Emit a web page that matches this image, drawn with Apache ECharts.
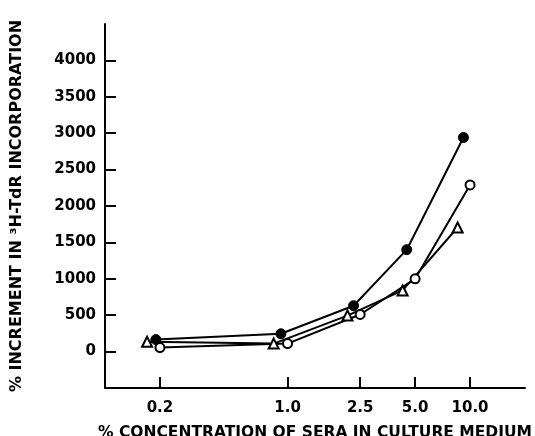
<!DOCTYPE html>
<html>
<head>
<meta charset="utf-8">
<script src="https://cdn.jsdelivr.net/npm/echarts@6/dist/echarts.min.js"></script>
<style>
html,body{margin:0;padding:0;background:#fff;}
#chart{width:535px;height:436px;}
</style>
</head>
<body>
<div id="chart"></div>
<script>
// Data
const xTickValues = [0.2, 1.0, 2.5, 5.0, 10.0];
const yTickValues = [0, 500, 1000, 1500, 2000, 2500, 3000, 3500, 4000];

const xFilled = [0.19, 0.92, 2.3, 4.5, 9.2];
const yFilled = [165, 245, 630, 1400, 2940];

const xOpen = [0.2, 1.0, 2.5, 5.0, 10.0];
const yOpen = [55, 110, 510, 1000, 2290];

const xTri = [0.17, 0.84, 2.13, 4.27, 8.55];
const yTri = [135, 110, 495, 840, 1705];

const xTitle = '% CONCENTRATION OF SERA IN CULTURE MEDIUM';
const yTitle = '% INCREMENT IN ³H-TdR INCORPORATION';

function pairs(xs, ys) { return xs.map((x, i) => [x, ys[i]]); }

const FONT = '"DejaVu Sans", "Liberation Sans", Arial, sans-serif';
const chart = echarts.init(document.getElementById('chart'), null, {renderer: 'canvas'});

chart.setOption({
  animation: false,
  backgroundColor: '#fff',
  grid: {left: 105, top: 24, width: 420, height: 364, containLabel: false, outerBoundsMode: 'none'},
  xAxis: {
    type: 'log', logBase: 10, min: 0.1, max: 20,
    name: xTitle, nameLocation: 'middle', nameGap: 37,
    nameTextStyle: {color: '#000', fontFamily: FONT, fontWeight: 'bold', fontSize: 15.5},
    axisLine: {show: true, onZero: false, lineStyle: {color: '#000', width: 2}},
    axisTick: {show: true, inside: true, length: 11, customValues: xTickValues, lineStyle: {color: '#000', width: 2}},
    minorTick: {show: false},
    axisLabel: {show: true, customValues: xTickValues, margin: 13, color: '#000', fontFamily: FONT, fontWeight: 'bold', fontSize: 15,
      formatter: v => Number(v).toFixed(1)},
    splitLine: {show: false}
  },
  yAxis: {
    type: 'value', min: -500, max: 4500, interval: 500,
    name: yTitle, nameLocation: 'middle', nameGap: 80, nameRotate: 90,
    nameTextStyle: {color: '#000', fontFamily: FONT, fontWeight: 'bold', fontSize: 16},
    axisLine: {show: true, onZero: false, lineStyle: {color: '#000', width: 2}},
    axisTick: {show: true, inside: true, length: 11, customValues: yTickValues, lineStyle: {color: '#000', width: 2}},
    axisLabel: {show: true, customValues: yTickValues, margin: 9, color: '#000', fontFamily: FONT, fontWeight: 'bold', fontSize: 15,
      formatter: v => String(v)},
    splitLine: {show: false}
  },
  series: [
    {
      type: 'line', data: pairs(xFilled, yFilled),
      symbol: 'circle', symbolSize: 10,
      lineStyle: {color: '#000', width: 2},
      itemStyle: {color: '#000', borderColor: '#000', borderWidth: 1}
    },
    {
      type: 'line', data: pairs(xTri, yTri),
      symbol: 'triangle', symbolSize: 10,
      lineStyle: {color: '#000', width: 2},
      itemStyle: {color: '#fff', borderColor: '#000', borderWidth: 2}
    },
    {
      type: 'line', data: pairs(xOpen, yOpen),
      symbol: 'circle', symbolSize: 9,
      lineStyle: {color: '#000', width: 2},
      itemStyle: {color: '#fff', borderColor: '#000', borderWidth: 2}
    }
  ]
});
</script>
</body>
</html>
